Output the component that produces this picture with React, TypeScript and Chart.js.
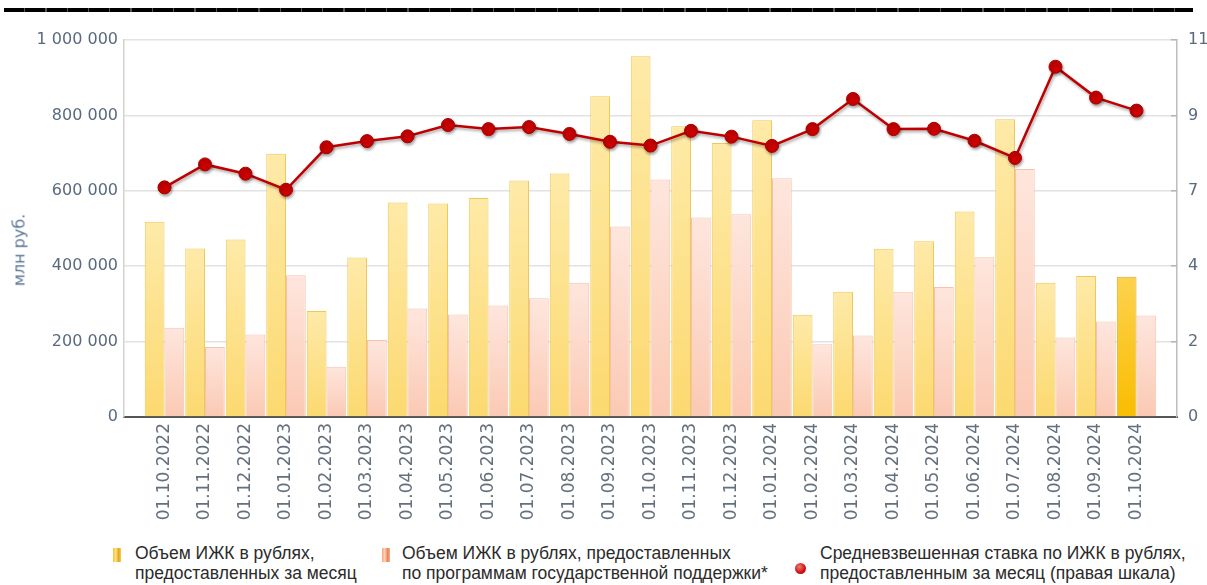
import React, { useEffect, useRef } from 'react';
import { Chart, registerables } from 'chart.js';

Chart.register(...registerables);

const categories = [
  '01.10.2022', '01.11.2022', '01.12.2022', '01.01.2023', '01.02.2023', '01.03.2023',
  '01.04.2023', '01.05.2023', '01.06.2023', '01.07.2023', '01.08.2023', '01.09.2023',
  '01.10.2023', '01.11.2023', '01.12.2023', '01.01.2024', '01.02.2024', '01.03.2024',
  '01.04.2024', '01.05.2024', '01.06.2024', '01.07.2024', '01.08.2024', '01.09.2024',
  '01.10.2024',
];

const totalVolume = [
  518000, 447000, 471000, 698000, 281000, 423000, 569000, 566000, 581000, 627000,
  646000, 851000, 957000, 771000, 727000, 787000, 271000, 332000, 446000, 466000,
  545000, 790000, 356000, 374000, 372000,
];

const supportVolume = [
  237000, 186000, 219000, 376000, 133000, 204000, 288000, 272000, 296000, 315000,
  356000, 505000, 630000, 529000, 538000, 633000, 193000, 216000, 332000, 345000,
  424000, 658000, 211000, 253000, 269000,
];

const avgRate = [
  6.70, 7.37, 7.10, 6.63, 7.87, 8.05, 8.19, 8.52, 8.40, 8.46,
  8.26, 8.03, 7.92, 8.35, 8.18, 7.91, 8.40, 9.28, 8.40, 8.41,
  8.06, 7.56, 10.22, 9.32, 8.94,
];

const leftTicks = [0, 200000, 400000, 600000, 800000, 1000000];
const rightMax = 11;

const legendTexts = [
  ['Объем ИЖК в рублях,', 'предоставленных за месяц'],
  ['Объем ИЖК в рублях, предоставленных', 'по программам государственной поддержки*'],
  ['Средневзвешенная ставка по ИЖК в рублях,', 'предоставленным за месяц (правая шкала)'],
];
const yTitle = 'млн руб.';

const pad = <T,>(arr: T[], empty: any) => [empty, ...arr, empty];

const fmt = (v: number) => String(Math.round(v)).replace(/\B(?=(\d{3})+(?!\d))/g, ' ');

function barGradient(ctx: any, top: string, bottom: string, topHl?: string, bottomHl?: string) {
  const chart = ctx.chart;
  const yScale = chart.scales && chart.scales.y;
  const v = ctx.raw;
  if (!yScale || v == null || !chart.chartArea) return top;
  const y0 = yScale.getPixelForValue(0);
  const y1 = yScale.getPixelForValue(v);
  const g = chart.ctx.createLinearGradient(0, y1, 0, y0);
  const isLast = ctx.dataIndex === categories.length && topHl;
  g.addColorStop(0, isLast ? topHl : top);
  g.addColorStop(1, isLast ? (bottomHl as string) : bottom);
  return g;
}

const shadowPlugin = {
  id: 'lineShadow',
  beforeDatasetDraw(chart: any, args: any) {
    if (args.meta.type === 'line') {
      const c = chart.ctx;
      c.save();
      c.shadowColor = 'rgba(0,0,0,0.35)';
      c.shadowBlur = 3;
      c.shadowOffsetX = 1;
      c.shadowOffsetY = 2;
    }
  },
  afterDatasetDraw(chart: any, args: any) {
    if (args.meta.type === 'line') chart.ctx.restore();
  },
};

export default function App() {
  const canvasRef = useRef<HTMLCanvasElement | null>(null);

  useEffect(() => {
    document.body.style.margin = '0';
    const canvas = canvasRef.current;
    if (!canvas) return;
    const tickFont = { family: "'DejaVu Sans', Verdana, sans-serif", size: 16 };
    const chart = new Chart(canvas, {
      type: 'bar',
      data: {
        labels: pad(categories, ''),
        datasets: [
          {
            type: 'line',
            label: legendTexts[2].join(' '),
            data: pad(avgRate, null),
            yAxisID: 'y1',
            order: 0,
            borderColor: '#c00000',
            borderWidth: 2.5,
            pointRadius: 6.5,
            pointHoverRadius: 6.5,
            pointBackgroundColor: '#c80000',
            pointBorderColor: '#a80000',
            pointBorderWidth: 1,
            tension: 0,
          } as any,
          {
            type: 'bar',
            label: legendTexts[0].join(' '),
            data: pad(totalVolume, null),
            yAxisID: 'y',
            order: 1,
            backgroundColor: (ctx: any) => barGradient(ctx, '#feeaa8', '#fcd970', '#fdd24e', '#f9bd00'),
            borderColor: (ctx: any) => (ctx.dataIndex === categories.length ? '#d5a52e' : '#f0c75a'),
            borderWidth: 1,
            categoryPercentage: 0.975,
            barPercentage: 1,
          },
          {
            type: 'bar',
            label: legendTexts[1].join(' '),
            data: pad(supportVolume, null),
            yAxisID: 'y',
            order: 1,
            backgroundColor: (ctx: any) => barGradient(ctx, '#fee6dd', '#fbc9b4'),
            borderColor: '#f6c2ac',
            borderWidth: 1,
            categoryPercentage: 0.975,
            barPercentage: 1,
          },
        ],
      },
      options: {
        animation: false,
        responsive: true,
        maintainAspectRatio: false,
        layout: { padding: { top: 40, left: 0, right: 0, bottom: 0 } },
        plugins: {
          legend: { display: false },
          tooltip: { enabled: false },
        },
        scales: {
          x: {
            type: 'category',
            offset: false,
            grid: { display: false, drawTicks: false },
            border: { color: '#555', width: 2 },
            ticks: {
              autoSkip: false,
              minRotation: 90,
              maxRotation: 90,
              padding: 6,
              color: '#65707e',
              font: { ...tickFont, size: 17 },
            },
            afterFit: (s: any) => { s.height = 118; },
          },
          y: {
            position: 'left',
            min: 0,
            max: leftTicks[leftTicks.length - 1],
            afterBuildTicks: (s: any) => { s.ticks = leftTicks.map((v) => ({ value: v })); },
            ticks: {
              callback: (v: any) => fmt(Number(v)),
              padding: 6,
              color: '#5a6a7e',
              font: tickFont,
            },
            grid: { color: '#e2e2e2', lineWidth: 1.5, drawTicks: false },
            border: { color: '#d2d2d2', width: 1.5 },
            afterFit: (s: any) => { s.width = 124; },
          },
          y1: {
            position: 'right',
            min: 0,
            max: rightMax,
            ticks: {
              count: 6,
              callback: (v: any) => String(Math.round(Number(v))),
              padding: 17,
              color: '#5a6a7e',
              font: tickFont,
            },
            grid: { drawOnChartArea: false, drawTicks: true, tickLength: -6, color: '#b5b5b5', lineWidth: 1.5 },
            border: { color: '#bdbdbd', width: 1.5 },
            afterFit: (s: any) => { s.width = 30; },
          },
        },
      },
      plugins: [shadowPlugin],
    } as any);
    return () => chart.destroy();
  }, []);

  const legendFont: React.CSSProperties = {
    position: 'absolute',
    top: 543,
    fontFamily: "'Liberation Sans', Arial, sans-serif",
    fontSize: 17.5,
    lineHeight: '20px',
    color: '#2b2b2b',
    whiteSpace: 'nowrap',
  };

  return (
    <div style={{ position: 'relative', width: 1207, height: 585, background: '#fff', overflow: 'hidden' }}>
      <div
        style={{
          position: 'absolute', left: 4, top: 8, width: 1189, height: 4,
          background: 'repeating-linear-gradient(to right, #000 0px, #000 20px, #555 20px, #555 21.3px)',
        }}
      />
      <div style={{ position: 'absolute', left: 0, top: 0, width: 1207, height: 535 }}>
        <canvas ref={canvasRef} />
      </div>
      <div
        style={{
          position: 'absolute', left: 19, top: 250, transform: 'translate(-50%, -50%) rotate(-90deg)',
          fontFamily: "'DejaVu Sans', Verdana, sans-serif", fontSize: 16, color: '#5a7696', whiteSpace: 'nowrap',
        }}
      >
        {yTitle}
      </div>
      <div
        style={{
          position: 'absolute', left: 113, top: 548, width: 8, height: 14,
          background: 'linear-gradient(to right, #f3c233 0%, #fde38c 35%, #e9a514 70%, #f6cf52 100%)',
        }}
      />
      <div style={{ ...legendFont, left: 135 }}>
        {legendTexts[0][0]}<br />{legendTexts[0][1]}
      </div>
      <div
        style={{
          position: 'absolute', left: 382, top: 548, width: 8, height: 14,
          background: 'linear-gradient(to right, #f5a77c 0%, #fcd3bd 35%, #ec8550 70%, #f6b08c 100%)',
        }}
      />
      <div style={{ ...legendFont, left: 402 }}>
        {legendTexts[1][0]}<br />{legendTexts[1][1]}
      </div>
      <div
        style={{
          position: 'absolute', left: 795, top: 563, width: 11, height: 11, borderRadius: '50%',
          background: 'radial-gradient(circle at 40% 35%, #f07a7a 0%, #d01818 55%, #9a0000 100%)',
        }}
      />
      <div style={{ ...legendFont, left: 820 }}>
        {legendTexts[2][0]}<br />{legendTexts[2][1]}
      </div>
    </div>
  );
}
